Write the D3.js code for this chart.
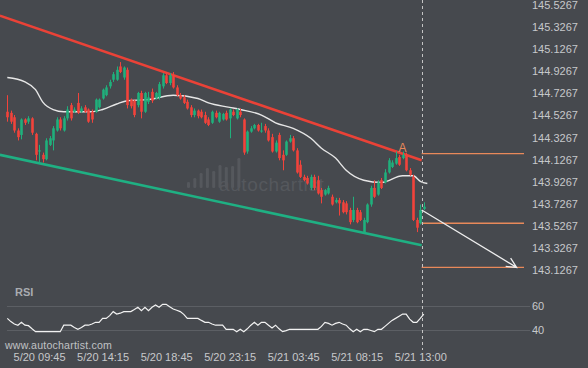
<!DOCTYPE html>
<html>
<head>
<meta charset="utf-8">
<script src="https://cdn.jsdelivr.net/npm/d3@7"></script>
<style>
  body { margin: 0; background: #46494e; }
  svg { display: block; font-family: "Liberation Sans", Arial, sans-serif; }
</style>
</head>
<body>
<svg id="chart" width="588" height="368"></svg>
<script>
// 15 min candles, 5/20 07:30 -> 5/21 13:00  [open, high, low, close]
const ohlc = [
  [144.56,144.71,144.47,144.51],[144.55,144.57,144.45,144.47],[144.51,144.53,144.37,144.39],[144.39,144.41,144.30,144.33],
  [144.35,144.50,144.31,144.49],[144.49,144.50,144.44,144.46],[144.47,144.52,144.45,144.50],[144.50,144.51,144.35,144.37],
  [144.36,144.37,144.12,144.17],[144.20,144.26,144.10,144.21],[144.17,144.19,144.10,144.13],[144.13,144.32,144.12,144.30],
  [144.26,144.34,144.25,144.32],[144.30,144.43,144.21,144.41],[144.39,144.51,144.38,144.49],[144.49,144.51,144.39,144.41],
  [144.39,144.52,144.38,144.50],[144.50,144.61,144.48,144.58],[144.62,144.64,144.48,144.50],[144.56,144.60,144.55,144.58],
  [144.64,144.73,144.54,144.55],[144.56,144.61,144.55,144.59],[144.60,144.62,144.55,144.56],[144.58,144.59,144.46,144.47],
  [144.56,144.58,144.46,144.49],[144.56,144.68,144.55,144.67],[144.60,144.68,144.59,144.67],[144.68,144.77,144.67,144.76],
  [144.71,144.80,144.70,144.78],[144.79,144.85,144.77,144.83],[144.85,144.92,144.83,144.90],[144.85,144.97,144.84,144.94],
  [144.97,145.01,144.91,144.92],[144.87,144.97,144.85,144.96],[144.94,144.96,144.59,144.62],[144.67,144.68,144.59,144.61],
  [144.66,144.67,144.51,144.53],[144.62,144.74,144.60,144.73],[144.73,144.75,144.50,144.56],[144.56,144.74,144.55,144.73],
  [144.65,144.74,144.63,144.69],[144.74,144.77,144.64,144.66],[144.68,144.74,144.67,144.73],[144.69,144.83,144.67,144.81],
  [144.79,144.91,144.77,144.89],[144.89,144.92,144.81,144.82],[144.82,144.91,144.80,144.89],[144.89,144.92,144.77,144.78],
  [144.78,144.80,144.70,144.71],[144.71,144.73,144.67,144.68],[144.69,144.71,144.63,144.64],[144.65,144.67,144.58,144.59],
  [144.60,144.62,144.51,144.53],[144.53,144.59,144.51,144.57],[144.57,144.58,144.50,144.52],[144.56,144.58,144.50,144.51],
  [144.53,144.56,144.45,144.46],[144.49,144.51,144.43,144.44],[144.46,144.57,144.45,144.56],[144.55,144.57,144.50,144.51],
  [144.47,144.56,144.46,144.55],[144.49,144.55,144.48,144.54],[144.55,144.57,144.48,144.49],[144.50,144.59,144.32,144.58],
  [144.56,144.58,144.52,144.53],[144.50,144.59,144.49,144.58],[144.56,144.59,144.51,144.53],[144.49,144.50,144.17,144.19],
  [144.20,144.39,144.18,144.38],[144.38,144.43,144.37,144.41],[144.41,144.45,144.40,144.44],[144.44,144.45,144.38,144.39],
  [144.38,144.46,144.37,144.39],[144.43,144.45,144.37,144.39],[144.39,144.41,144.29,144.30],[144.33,144.36,144.19,144.20],
  [144.20,144.30,144.19,144.28],[144.35,144.37,144.12,144.14],[144.17,144.21,144.03,144.12],[144.17,144.30,144.16,144.29],
  [144.29,144.35,144.28,144.32],[144.32,144.34,144.20,144.21],[144.21,144.23,144.00,144.01],[144.08,144.12,143.96,143.97],
  [143.97,143.99,143.93,143.94],[143.96,143.98,143.90,143.91],[143.87,143.99,143.85,143.97],[143.97,143.99,143.85,143.87],
  [143.94,143.98,143.81,143.82],[143.85,143.87,143.73,143.79],[143.81,143.86,143.80,143.85],[143.82,143.89,143.81,143.87],
  [143.79,143.81,143.71,143.72],[143.74,143.78,143.73,143.76],[143.76,143.78,143.62,143.73],[143.74,143.76,143.64,143.65],
  [143.73,143.75,143.63,143.65],[143.67,143.69,143.54,143.56],[143.58,143.79,143.56,143.67],[143.67,143.69,143.55,143.56],
  [143.65,143.67,143.57,143.58],[143.47,143.60,143.46,143.58],[143.56,143.73,143.55,143.72],[143.72,143.89,143.70,143.87],
  [143.87,143.94,143.78,143.79],[143.81,143.94,143.80,143.92],[143.94,143.96,143.86,143.87],[143.92,144.04,143.91,144.01],
  [144.01,144.14,144.00,144.12],[144.06,144.12,144.05,144.10],[144.09,144.20,144.08,144.14],[144.15,144.17,144.07,144.08],
  [144.14,144.20,144.13,144.17],[144.17,144.19,144.02,144.03],[144.03,144.05,143.98,143.99],[143.97,143.99,143.57,143.58],
  [143.58,143.60,143.47,143.51],[143.55,143.72,143.54,143.67],[143.68,143.74,143.67,143.70]
];

const rsi = [
  49.7,47,45,44,46.4,44,43.6,41,38.6,
  38.6,38.6,38.6,38.6,38.6,38.6,38.6,
  44,44,44,42,40.6,42,44,44,45,46.4,46.4,49.7,49.7,
  52,55.3,53.3,54,55.3,55.3,55.3,57,58.9,56.1,58.9,56.1,59,
  60.8,58.9,61.4,61.4,59.4,57.5,56.5,55.3,53,49.7,49.7,49.7,49.7,
  48,46.4,46.4,45,44,44,44,40.6,40.6,40.6,38.6,40.6,38.6,
  41,44,46.4,44,46.4,46.4,44,41.7,44,41,38.6,39.5,40.6,
  40.6,40.6,40.6,40.6,40.6,40.6,40.6,40.6,
  43,46.4,45.5,44,45.5,46.4,45,44,41,38.6,40.6,38.6,40.6,
  40.6,39.6,38.6,40.6,40.6,43,45.5,48,49.7,51.5,53.3,53.3,49,46.4,46.4,49.7,53.3
];

// moving average [candle index, price]
const maPoints = [
  [0,144.87],[5,144.83],[8,144.76],[10,144.65],[13,144.58],[16,144.56],[20,144.56],[24,144.56],
  [27,144.58],[31,144.63],[34,144.66],[40,144.67],[47,144.71],[54,144.68],[57,144.64],[63,144.60],
  [66,144.58],[72,144.53],[76,144.46],[81,144.41],[86,144.32],[89,144.23],[93,144.14],[96,144.03],
  [101,143.94],[106,143.92],[112,143.98],[115,143.98],[117,143.93],[119,143.91]
];

const priceTicks = [143.1267,143.3267,143.5267,143.7267,143.9267,144.1267,144.3267,
                    144.5267,144.7267,144.9267,145.1267,145.3267,145.5267];
const rsiTicks = [40, 60];
const timeIdx = [9, 27, 45, 63, 81, 99, 117];
const timeLabels = ["5/20 09:45","5/20 14:15","5/20 18:45","5/20 23:15","5/21 03:45","5/21 08:15","5/21 13:00"];

const resistance = [[-2.1,145.43],[117.4,144.12]];
const support = [[-2.1,144.17],[117.4,143.35]];
const targets = [144.18, 143.55, 143.15];
const forecast = [[117.4,143.67],[144.3,143.15]];
const nowIdx = 117.4;
const pointA = {idx: 112, label: "A"};

var svg = d3.select("#chart"),
    width = 588, height = 368,
    plotRight = 524;

svg.append("rect").attr("width", width).attr("height", height).attr("fill", "#46494e");

var x = d3.scaleLinear().domain([0, 118]).range([7.3, 423.8]);
var y = d3.scaleLinear().domain([143.1267, 145.5267]).range([270, 5]);
var yr = d3.scaleLinear().domain([40, 60]).range([330, 306]);

// watermark
var wm = svg.append("g").attr("fill", "#55585d");
[6, 10, 15, 20, 17, 23, 21, 22, 30].forEach((h, i) => {
    wm.append("rect").attr("x", 187 + i * 6.3).attr("y", 188 - h)
        .attr("width", 3).attr("height", h).attr("rx", 1.2)
})
wm.append("text").attr("x", 219).attr("y", 191).attr("font-size", 19)
    .attr("letter-spacing", 0.6).text("autochartist")

// rsi grid
svg.append("g").selectAll("line").data(rsiTicks).enter().append("line")
    .attr("x1", 7).attr("x2", 530)
    .attr("y1", d => yr(d) + 0.5).attr("y2", d => yr(d) + 0.5)
    .attr("stroke", "#5c5f64").attr("stroke-width", 1)

// channel lines
var line = d3.line().x(d => x(d[0])).y(d => y(d[1]))
svg.append("path").attr("d", line(resistance)).attr("stroke", "#ea4237")
    .attr("stroke-width", 2.6).attr("fill", "none")
svg.append("path").attr("d", line(support)).attr("stroke", "#1fb083")
    .attr("stroke-width", 2.6).attr("fill", "none")

// moving average
svg.append("path").attr("d", line.curve(d3.curveMonotoneX)(maPoints))
    .attr("stroke", "#e6e6e6").attr("stroke-width", 1.4).attr("fill", "none")
line.curve(d3.curveLinear)

// candles
var up = "#20b07c", down = "#f2433b";
var c = svg.append("g").selectAll("g").data(ohlc).enter().append("g")
c.append("line")
    .attr("x1", (d, i) => Math.round(x(i)) + 0.5).attr("x2", (d, i) => Math.round(x(i)) + 0.5)
    .attr("y1", d => y(d[1])).attr("y2", d => y(d[2]))
    .attr("stroke", d => d[3] >= d[0] ? up : down).attr("stroke-width", 1)
c.append("rect")
    .attr("x", (d, i) => Math.round(x(i)) + 0.5 - 1.3).attr("width", 2.6)
    .attr("y", d => y(Math.max(d[0], d[3])))
    .attr("height", d => Math.max(1, y(Math.min(d[0], d[3])) - y(Math.max(d[0], d[3]))))
    .attr("fill", d => d[3] >= d[0] ? up : down)

// target levels
svg.append("g").selectAll("line").data(targets).enter().append("line")
    .attr("x1", x(nowIdx)).attr("x2", plotRight)
    .attr("y1", d => y(d)).attr("y2", d => y(d))
    .attr("stroke", "#e8895a").attr("stroke-width", 1.3)

svg.append("text").attr("x", x(pointA.idx)).attr("y", y(ohlc[pointA.idx][1]) + 0.5)
    .attr("text-anchor", "middle").attr("font-size", 12).attr("fill", "#e8895a")
    .text(pointA.label)

// now line
svg.append("line").attr("x1", Math.round(x(nowIdx)) + 0.5).attr("x2", Math.round(x(nowIdx)) + 0.5)
    .attr("y1", 0).attr("y2", 350)
    .attr("stroke", "#c4c4c4").attr("stroke-width", 1).attr("stroke-dasharray", "3,3")

// forecast arrow
var p0 = [x(forecast[0][0]), y(forecast[0][1])], p1 = [x(forecast[1][0]), y(forecast[1][1])];
var ang = Math.atan2(p1[1] - p0[1], p1[0] - p0[0]), hl = 11, ha = 0.45;
svg.append("path")
    .attr("d", `M${p0}L${p1}M${p1[0] - hl * Math.cos(ang - ha)},${p1[1] - hl * Math.sin(ang - ha)}L${p1}L${p1[0] - hl * Math.cos(ang + ha)},${p1[1] - hl * Math.sin(ang + ha)}`)
    .attr("stroke", "#eeeeee").attr("stroke-width", 1.3).attr("fill", "none")

// rsi line
svg.append("path")
    .attr("d", d3.line().x((d, i) => x(i)).y(d => yr(d))(rsi))
    .attr("stroke", "#f2f2f2").attr("stroke-width", 1.2).attr("fill", "none")

// axes
var fmt = d3.format(".4f")
svg.append("g").attr("transform", "translate(528,0)")
    .call(d3.axisRight(y).tickValues(priceTicks).tickFormat(fmt).tickSize(0).tickPadding(4))
svg.append("g").attr("transform", "translate(528,0)")
    .call(d3.axisRight(yr).tickValues(rsiTicks).tickSize(0).tickPadding(4))
svg.append("g").attr("transform", "translate(0,350)")
    .call(d3.axisBottom(x).tickValues(timeIdx).tickFormat((d, i) => timeLabels[i]).tickSize(0).tickPadding(3))

svg.selectAll(".domain").remove()
svg.selectAll(".tick text").attr("fill", "#c6c8cb").attr("font-size", 11)
    .attr("font-family", '"Liberation Sans", Arial, sans-serif')

svg.append("text").attr("x", 15).attr("y", 296).attr("font-size", 11).attr("font-weight", "bold")
    .attr("fill", "#a9acb1").text("RSI")
svg.append("text").attr("x", 5).attr("y", 349).attr("font-size", 10.6).attr("letter-spacing", 0.2)
    .attr("fill", "#c0c2c5").text("www.autochartist.com")
</script>
</body>
</html>
